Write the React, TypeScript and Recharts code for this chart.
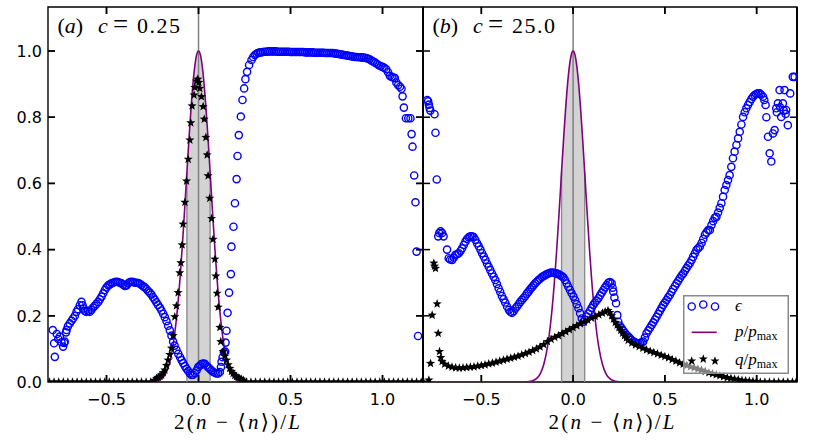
import {
  Area,
  ComposedChart,
  Line,
  ReferenceArea,
  ReferenceLine,
  Scatter,
  XAxis,
  YAxis,
} from 'recharts'

// axes
const X_DOMAIN: [number, number] = [-0.818, 1.22]
const Y_DOMAIN: [number, number] = [0, 1.133]
const X_TICKS = [-0.5, 0, 0.5, 1.0]
const X_TICK_LABELS = ['\u22120.5', '0.0', '0.5', '1.0']
const Y_TICKS = [0, 0.2, 0.4, 0.6, 0.8, 1.0]
const Y_TICK_LABELS = ['0.0', '0.2', '0.4', '0.6', '0.8', '1.0']

// shaded band around the centre
const BAND_EDGES = [-0.063, 0.063]
const BAND_EDGE_HEIGHT = 0.634

const PANEL_NAMES = ['a', 'b']
const PANEL_C = ['0.25', '25.0']
const LEGEND_NAMES = ['\u03f5', 'p/p_max', 'q/p_max']

// p / p_max (same curve in both panels)
const P_CURVE: [number, number][] = [
  [-0.818, 0], [-0.3, 0], [-0.27, 0], [-0.24, 0.001], [-0.22, 0.004], [-0.2, 0.01],
  [-0.18, 0.024], [-0.16, 0.053], [-0.14, 0.105], [-0.12, 0.191], [-0.1, 0.317],
  [-0.09, 0.395], [-0.08, 0.48], [-0.07, 0.57], [-0.06, 0.662], [-0.05, 0.751],
  [-0.04, 0.832], [-0.03, 0.902], [-0.02, 0.955], [-0.01, 0.989], [0, 1],
  [0.01, 0.989], [0.02, 0.955], [0.03, 0.902], [0.04, 0.832], [0.05, 0.751],
  [0.06, 0.662], [0.07, 0.57], [0.08, 0.48], [0.09, 0.395], [0.1, 0.317],
  [0.12, 0.191], [0.14, 0.105], [0.16, 0.053], [0.18, 0.024], [0.2, 0.01],
  [0.22, 0.004], [0.24, 0.001], [0.27, 0], [0.3, 0], [1.22, 0],
]

// p / p_max inside the shaded band
const P_BAND: [number, number][] = [
  [-0.063, 0.634], [-0.05, 0.751], [-0.04, 0.832], [-0.03, 0.902], [-0.02, 0.955],
  [-0.01, 0.989], [0, 1], [0.01, 0.989], [0.02, 0.955], [0.03, 0.902],
  [0.04, 0.832], [0.05, 0.751], [0.063, 0.634],
]

// (a) epsilon
const EPS_A: [number, number][] = [
  [-0.792, 0.157], [-0.785, 0.117], [-0.781, 0.076], [-0.77, 0.145], [-0.762, 0.13],
  [-0.754, 0.137], [-0.745, 0.12], [-0.736, 0.107], [-0.73, 0.118], [-0.727, 0.122],
  [-0.72, 0.15], [-0.717, 0.157], [-0.71, 0.168], [-0.7, 0.177], [-0.69, 0.185],
  [-0.682, 0.192], [-0.672, 0.2], [-0.663, 0.212], [-0.655, 0.22], [-0.645, 0.232],
  [-0.636, 0.242], [-0.63, 0.232], [-0.624, 0.222], [-0.618, 0.215], [-0.61, 0.212],
  [-0.6, 0.215], [-0.591, 0.212], [-0.582, 0.218], [-0.573, 0.225], [-0.564, 0.23],
  [-0.555, 0.236], [-0.545, 0.242], [-0.536, 0.25], [-0.527, 0.258], [-0.518, 0.268],
  [-0.509, 0.278], [-0.5, 0.286], [-0.49, 0.292], [-0.482, 0.295], [-0.473, 0.298],
  [-0.464, 0.3], [-0.455, 0.302], [-0.446, 0.303], [-0.437, 0.302], [-0.428, 0.3],
  [-0.418, 0.298], [-0.41, 0.294], [-0.4, 0.29], [-0.391, 0.292], [-0.382, 0.298],
  [-0.373, 0.302], [-0.364, 0.303], [-0.355, 0.302], [-0.346, 0.3], [-0.337, 0.3],
  [-0.328, 0.299], [-0.319, 0.297], [-0.31, 0.293], [-0.3, 0.289], [-0.292, 0.286],
  [-0.283, 0.281], [-0.274, 0.275], [-0.265, 0.27], [-0.256, 0.264], [-0.247, 0.256],
  [-0.238, 0.249], [-0.229, 0.241], [-0.22, 0.233], [-0.21, 0.225], [-0.201, 0.216],
  [-0.192, 0.206], [-0.183, 0.196], [-0.174, 0.184], [-0.165, 0.17], [-0.156, 0.156],
  [-0.147, 0.14], [-0.138, 0.122], [-0.13, 0.11], [-0.12, 0.097], [-0.11, 0.085],
  [-0.1, 0.075], [-0.092, 0.066], [-0.083, 0.057], [-0.074, 0.048], [-0.065, 0.04],
  [-0.056, 0.033], [-0.047, 0.026], [-0.038, 0.021], [-0.029, 0.022], [-0.02, 0.027],
  [-0.011, 0.035], [-0.002, 0.045], [0.007, 0.05], [0.016, 0.054], [0.025, 0.056],
  [0.034, 0.055], [0.043, 0.05], [0.052, 0.045], [0.061, 0.04], [0.07, 0.035],
  [0.079, 0.031], [0.088, 0.028], [0.097, 0.026], [0.107, 0.026], [0.116, 0.03],
  [0.122, 0.045], [0.125, 0.061], [0.131, 0.075], [0.138, 0.09], [0.145, 0.092],
  [0.147, 0.119], [0.152, 0.155], [0.158, 0.209], [0.166, 0.27], [0.176, 0.326],
  [0.179, 0.409], [0.19, 0.469], [0.198, 0.54], [0.207, 0.613], [0.212, 0.683],
  [0.219, 0.746], [0.23, 0.802], [0.239, 0.852], [0.248, 0.887], [0.255, 0.915],
  [0.264, 0.937], [0.275, 0.958], [0.288, 0.973], [0.297, 0.982], [0.306, 0.988],
  [0.315, 0.992], [0.324, 0.994], [0.333, 0.996], [0.34, 0.996], [0.35, 0.997],
  [0.36, 0.998], [0.37, 0.998], [0.38, 0.999], [0.39, 0.999], [0.4, 0.999],
  [0.41, 0.999], [0.42, 0.999], [0.43, 0.998], [0.44, 0.998], [0.45, 0.998],
  [0.46, 0.998], [0.47, 0.998], [0.48, 0.998], [0.49, 0.998], [0.5, 0.997],
  [0.51, 0.997], [0.52, 0.997], [0.53, 0.997], [0.54, 0.997], [0.55, 0.997],
  [0.56, 0.997], [0.57, 0.997], [0.58, 0.996], [0.59, 0.996], [0.6, 0.996],
  [0.61, 0.996], [0.62, 0.996], [0.63, 0.995], [0.64, 0.995], [0.65, 0.995],
  [0.66, 0.995], [0.67, 0.995], [0.68, 0.995], [0.69, 0.994], [0.7, 0.994],
  [0.71, 0.994], [0.72, 0.994], [0.73, 0.994], [0.74, 0.993], [0.75, 0.992],
  [0.76, 0.991], [0.77, 0.99], [0.78, 0.989], [0.79, 0.988], [0.8, 0.987],
  [0.81, 0.986], [0.82, 0.985], [0.83, 0.984], [0.84, 0.983], [0.85, 0.982],
  [0.86, 0.982], [0.87, 0.981], [0.88, 0.981], [0.89, 0.98], [0.9, 0.98],
  [0.91, 0.979], [0.92, 0.977], [0.93, 0.975], [0.94, 0.971], [0.95, 0.968],
  [0.96, 0.965], [0.97, 0.961], [0.98, 0.957], [0.99, 0.954], [1.0, 0.952],
  [1.01, 0.949], [1.02, 0.945], [1.03, 0.936], [1.04, 0.925], [1.05, 0.922],
  [1.06, 0.92], [1.067, 0.918], [1.075, 0.905], [1.085, 0.897], [1.095, 0.892],
  [1.103, 0.886], [1.109, 0.863], [1.116, 0.829], [1.127, 0.797], [1.14, 0.797],
  [1.152, 0.797], [1.158, 0.749], [1.163, 0.711], [1.172, 0.624], [1.179, 0.543],
  [1.185, 0.394], [1.193, 0.139],
]

// (a) q / p_max
const Q_A: [number, number][] = [
  [-0.81, 0], [-0.785, 0], [-0.76, 0], [-0.735, 0], [-0.71, 0], [-0.685, 0],
  [-0.66, 0], [-0.635, 0], [-0.61, 0], [-0.585, 0], [-0.56, 0], [-0.535, 0],
  [-0.51, 0], [-0.485, 0], [-0.46, 0], [-0.435, 0], [-0.41, 0], [-0.385, 0],
  [-0.36, 0], [-0.335, 0], [-0.31, 0], [-0.285, 0], [-0.26, 0], [-0.24, 0.005],
  [-0.228, 0.011], [-0.219, 0.014], [-0.21, 0.017], [-0.201, 0.021], [-0.192, 0.028],
  [-0.183, 0.036], [-0.174, 0.05], [-0.165, 0.066], [-0.156, 0.083], [-0.147, 0.102],
  [-0.138, 0.14], [-0.129, 0.197], [-0.12, 0.23], [-0.111, 0.27], [-0.102, 0.33],
  [-0.096, 0.36], [-0.089, 0.414], [-0.084, 0.477], [-0.074, 0.543], [-0.065, 0.607],
  [-0.056, 0.673], [-0.047, 0.731], [-0.042, 0.783], [-0.035, 0.834], [-0.024, 0.867],
  [-0.02, 0.89], [-0.011, 0.909], [-0.004, 0.915], [0.002, 0.905], [0.007, 0.887],
  [0.016, 0.862], [0.025, 0.832], [0.031, 0.794], [0.04, 0.739], [0.047, 0.686],
  [0.052, 0.623], [0.061, 0.555], [0.071, 0.494], [0.079, 0.431], [0.089, 0.371],
  [0.094, 0.32], [0.101, 0.268], [0.107, 0.226], [0.116, 0.165], [0.121, 0.122],
  [0.134, 0.092], [0.143, 0.078], [0.152, 0.066], [0.161, 0.052], [0.17, 0.041],
  [0.179, 0.032], [0.188, 0.026], [0.197, 0.02], [0.206, 0.016], [0.215, 0.013],
  [0.224, 0.011], [0.233, 0.008], [0.245, 0.005], [0.26, 0], [0.285, 0], [0.31, 0],
  [0.335, 0], [0.36, 0], [0.385, 0], [0.41, 0], [0.435, 0], [0.46, 0], [0.485, 0],
  [0.51, 0], [0.535, 0], [0.56, 0], [0.585, 0], [0.61, 0], [0.635, 0], [0.66, 0],
  [0.685, 0], [0.71, 0], [0.735, 0], [0.76, 0], [0.785, 0], [0.81, 0], [0.835, 0],
  [0.86, 0], [0.885, 0], [0.91, 0], [0.935, 0], [0.96, 0], [0.985, 0], [1.01, 0],
  [1.035, 0], [1.06, 0], [1.085, 0], [1.11, 0], [1.135, 0], [1.16, 0], [1.185, 0],
  [1.21, 0],
]

// (b) epsilon
const EPS_B: [number, number][] = [
  [-0.795, 0.852], [-0.79, 0.848], [-0.786, 0.838], [-0.782, 0.828], [-0.778, 0.82],
  [-0.755, 0.809], [-0.75, 0.753], [-0.743, 0.612], [-0.735, 0.44], [-0.73, 0.45],
  [-0.722, 0.455], [-0.714, 0.45], [-0.706, 0.44], [-0.687, 0.4], [-0.678, 0.374],
  [-0.67, 0.37], [-0.659, 0.369], [-0.65, 0.376], [-0.641, 0.384], [-0.632, 0.386],
  [-0.623, 0.389], [-0.614, 0.396], [-0.605, 0.404], [-0.596, 0.414], [-0.587, 0.424],
  [-0.578, 0.432], [-0.569, 0.437], [-0.56, 0.44], [-0.551, 0.44], [-0.542, 0.438],
  [-0.533, 0.43], [-0.523, 0.419], [-0.514, 0.41], [-0.505, 0.4], [-0.496, 0.389],
  [-0.487, 0.379], [-0.478, 0.369], [-0.469, 0.358], [-0.46, 0.348], [-0.451, 0.338],
  [-0.442, 0.328], [-0.433, 0.318], [-0.424, 0.308], [-0.415, 0.296], [-0.406, 0.283],
  [-0.397, 0.272], [-0.388, 0.26], [-0.379, 0.25], [-0.37, 0.24], [-0.36, 0.228],
  [-0.35, 0.218], [-0.342, 0.212], [-0.333, 0.209], [-0.324, 0.214], [-0.315, 0.222],
  [-0.306, 0.228], [-0.297, 0.235], [-0.288, 0.242], [-0.279, 0.248], [-0.27, 0.254],
  [-0.261, 0.26], [-0.252, 0.267], [-0.243, 0.273], [-0.234, 0.28], [-0.225, 0.286],
  [-0.216, 0.292], [-0.207, 0.298], [-0.198, 0.303], [-0.189, 0.308], [-0.18, 0.312],
  [-0.17, 0.317], [-0.161, 0.32], [-0.152, 0.323], [-0.143, 0.326], [-0.134, 0.328],
  [-0.125, 0.33], [-0.116, 0.331], [-0.107, 0.33], [-0.098, 0.329], [-0.089, 0.328],
  [-0.08, 0.326], [-0.071, 0.323], [-0.062, 0.32], [-0.053, 0.316], [-0.044, 0.308],
  [-0.035, 0.298], [-0.026, 0.288], [-0.017, 0.278], [-0.008, 0.268], [0.002, 0.258],
  [0.011, 0.247], [0.02, 0.235], [0.029, 0.223], [0.038, 0.208], [0.047, 0.192],
  [0.056, 0.182], [0.065, 0.188], [0.074, 0.198], [0.083, 0.207], [0.092, 0.215],
  [0.101, 0.224], [0.11, 0.233], [0.119, 0.24], [0.128, 0.246], [0.138, 0.253],
  [0.147, 0.262], [0.156, 0.27], [0.165, 0.278], [0.174, 0.286], [0.183, 0.293],
  [0.192, 0.3], [0.201, 0.302], [0.21, 0.298], [0.215, 0.285], [0.219, 0.273],
  [0.225, 0.255], [0.234, 0.238], [0.241, 0.202], [0.246, 0.182], [0.255, 0.17],
  [0.265, 0.162], [0.274, 0.155], [0.283, 0.148], [0.292, 0.142], [0.301, 0.137],
  [0.31, 0.132], [0.319, 0.127], [0.328, 0.123], [0.337, 0.12], [0.346, 0.118],
  [0.355, 0.117], [0.364, 0.118], [0.373, 0.12], [0.382, 0.122], [0.391, 0.134],
  [0.4, 0.147], [0.41, 0.156], [0.419, 0.164], [0.428, 0.172], [0.437, 0.18],
  [0.446, 0.189], [0.455, 0.197], [0.464, 0.206], [0.473, 0.215], [0.482, 0.224],
  [0.491, 0.233], [0.5, 0.24], [0.509, 0.248], [0.518, 0.256], [0.527, 0.263],
  [0.536, 0.272], [0.545, 0.281], [0.555, 0.29], [0.564, 0.298], [0.573, 0.306],
  [0.582, 0.314], [0.591, 0.322], [0.6, 0.328], [0.609, 0.336], [0.618, 0.344],
  [0.627, 0.352], [0.636, 0.359], [0.645, 0.368], [0.654, 0.378], [0.663, 0.388],
  [0.672, 0.399], [0.681, 0.404], [0.69, 0.409], [0.7, 0.42], [0.709, 0.432],
  [0.718, 0.445], [0.727, 0.452], [0.736, 0.459], [0.745, 0.459], [0.754, 0.474],
  [0.763, 0.486], [0.772, 0.496], [0.781, 0.499], [0.79, 0.512], [0.799, 0.526],
  [0.808, 0.54], [0.817, 0.56], [0.826, 0.58], [0.835, 0.595], [0.844, 0.61],
  [0.853, 0.625], [0.862, 0.65], [0.871, 0.676], [0.88, 0.696], [0.89, 0.716],
  [0.899, 0.736], [0.908, 0.756], [0.917, 0.778], [0.926, 0.801], [0.935, 0.815],
  [0.944, 0.827], [0.953, 0.837], [0.962, 0.846], [0.971, 0.855], [0.98, 0.862],
  [0.989, 0.867], [0.998, 0.87], [1.007, 0.872], [1.016, 0.872], [1.025, 0.868],
  [1.035, 0.862], [1.042, 0.852], [1.049, 0.837], [1.053, 0.8], [1.062, 0.741],
  [1.071, 0.691], [1.08, 0.666], [1.089, 0.751], [1.098, 0.761], [1.107, 0.827],
  [1.11, 0.815], [1.116, 0.842], [1.125, 0.882], [1.128, 0.83], [1.134, 0.801],
  [1.143, 0.842], [1.148, 0.82], [1.152, 0.882], [1.158, 0.81], [1.161, 0.822],
  [1.17, 0.776], [1.183, 0.872], [1.197, 0.922], [1.207, 0.922],
]

// (b) q / p_max
const Q_B: [number, number][] = [
  [-0.815, 0], [-0.786, 0.006], [-0.777, 0.056], [-0.768, 0.202], [-0.759, 0.359],
  [-0.755, 0.35], [-0.75, 0.343], [-0.741, 0.236], [-0.735, 0.147], [-0.728, 0.092],
  [-0.721, 0.074], [-0.714, 0.062], [-0.7, 0.054], [-0.68, 0.048], [-0.66, 0.045],
  [-0.64, 0.043], [-0.62, 0.042], [-0.6, 0.043], [-0.58, 0.044], [-0.56, 0.045],
  [-0.54, 0.046], [-0.52, 0.048], [-0.5, 0.05], [-0.48, 0.052], [-0.46, 0.055],
  [-0.44, 0.057], [-0.42, 0.06], [-0.4, 0.063], [-0.38, 0.066], [-0.36, 0.069],
  [-0.34, 0.072], [-0.32, 0.075], [-0.3, 0.078], [-0.28, 0.082], [-0.26, 0.086],
  [-0.24, 0.09], [-0.22, 0.095], [-0.2, 0.1], [-0.18, 0.106], [-0.16, 0.113],
  [-0.14, 0.122], [-0.12, 0.129], [-0.1, 0.135], [-0.08, 0.14], [-0.06, 0.146],
  [-0.04, 0.152], [-0.02, 0.158], [0, 0.164], [0.02, 0.17], [0.04, 0.176],
  [0.06, 0.181], [0.08, 0.187], [0.1, 0.193], [0.12, 0.198], [0.14, 0.203],
  [0.16, 0.208], [0.175, 0.212], [0.19, 0.216], [0.2, 0.21], [0.21, 0.2],
  [0.22, 0.19], [0.23, 0.18], [0.24, 0.172], [0.25, 0.164], [0.26, 0.156],
  [0.27, 0.148], [0.28, 0.14], [0.29, 0.133], [0.3, 0.126], [0.32, 0.118],
  [0.34, 0.112], [0.36, 0.107], [0.38, 0.102], [0.4, 0.097], [0.42, 0.093],
  [0.44, 0.089], [0.46, 0.085], [0.48, 0.081], [0.5, 0.077], [0.52, 0.073],
  [0.54, 0.068], [0.56, 0.063], [0.58, 0.058], [0.6, 0.054], [0.62, 0.05],
  [0.64, 0.046], [0.66, 0.043], [0.68, 0.039], [0.7, 0.036], [0.72, 0.032],
  [0.74, 0.028], [0.76, 0.025], [0.78, 0.022], [0.8, 0.019], [0.82, 0.016],
  [0.84, 0.013], [0.86, 0.011], [0.88, 0.009], [0.9, 0.007], [0.92, 0.005],
  [0.94, 0.004], [0.96, 0.003], [0.98, 0.002], [1.0, 0.001], [1.02, 0],
  [1.045, 0], [1.07, 0], [1.095, 0], [1.12, 0], [1.145, 0], [1.17, 0],
  [1.195, 0], [1.215, 0],
]

const toPts = (arr: [number, number][]) => arr.map(([x, y]) => ({ x, y }))

const BLACK = '#000000'
const BLUE = '#0000ff'
const PURPLE = '#800080'
const TICK_LEN = 7
const TICK_W = 1.5
const CHART_H = 440
const MARGIN_TOP = 7
const MARGIN_BOTTOM = 28
const X_AXIS_H = 30
const PLOT_H = CHART_H - MARGIN_TOP - MARGIN_BOTTOM - X_AXIS_H
const SANS = "'DejaVu Sans', sans-serif"
const SERIF = "'Liberation Serif', 'DejaVu Serif', serif"

function labelFor(values: number[], labels: string[], v: number) {
  const i = values.findIndex((t) => Math.abs(t - v) < 1e-9)
  return i >= 0 ? labels[i] : ''
}

function starPoints(cx: number, cy: number, R: number, r: number) {
  const pts: string[] = []
  for (let i = 0; i < 10; i++) {
    const a = -Math.PI / 2 + (i * Math.PI) / 5
    const rad = i % 2 === 0 ? R : r
    pts.push(`${cx + rad * Math.cos(a)},${cy + rad * Math.sin(a)}`)
  }
  return pts.join(' ')
}

const Ring = (p: any) => (
  <circle cx={p.cx} cy={p.cy} r={3.6} fill="none" stroke={BLUE} strokeWidth={1.4} />
)
const Star = (p: any) => <polygon points={starPoints(p.cx, p.cy, 4.8, 2.0)} fill={BLACK} />

// inward tick marks, drawn as small filled rects at the tick positions
const TickUp = (p: any) => (
  <rect x={p.cx - TICK_W / 2} y={p.cy - TICK_LEN} width={TICK_W} height={TICK_LEN} fill={BLACK} />
)
const TickDown = (p: any) => (
  <rect x={p.cx - TICK_W / 2} y={p.cy} width={TICK_W} height={TICK_LEN} fill={BLACK} />
)
const TickRight = (p: any) => (
  <rect x={p.cx} y={p.cy - TICK_W / 2} width={TICK_LEN} height={TICK_W} fill={BLACK} />
)
const TickLeft = (p: any) => (
  <rect x={p.cx - TICK_LEN} y={p.cy - TICK_W / 2} width={TICK_LEN} height={TICK_W} fill={BLACK} />
)

// bottom axis: label plus inward marks on the bottom and top edges
function BottomTick(p: any) {
  const { x, y, payload } = p
  return (
    <g>
      <rect x={x - TICK_W / 2} y={y - TICK_LEN} width={TICK_W} height={TICK_LEN} fill={BLACK} />
      <rect x={x - TICK_W / 2} y={y - PLOT_H} width={TICK_W} height={TICK_LEN} fill={BLACK} />
      <text x={x} y={y + 23} textAnchor="middle" fontFamily={SANS} fontSize={16} fill={BLACK}>
        {labelFor(X_TICKS, X_TICK_LABELS, payload.value)}
      </text>
    </g>
  )
}

// left axis: optional label plus inward marks on the left and right edges
function LeftTick(p: any) {
  const { x, y, payload, showLabel, plotWidth } = p
  const inner = Math.abs(payload.value) > 1e-9
  return (
    <g>
      {inner && <rect x={x} y={y - TICK_W / 2} width={TICK_LEN} height={TICK_W} fill={BLACK} />}
      {inner && (
        <rect x={x + plotWidth - TICK_LEN} y={y - TICK_W / 2} width={TICK_LEN} height={TICK_W} fill={BLACK} />
      )}
      {showLabel && (
        <text x={x - 6} y={y + 5.8} textAnchor="end" fontFamily={SANS} fontSize={16} fill={BLACK}>
          {labelFor(Y_TICKS, Y_TICK_LABELS, payload.value)}
        </text>
      )}
    </g>
  )
}

// x-axis title, the panel title and the right-hand spine
function Titles(p: any, idx: number) {
  const vb = p.viewBox
  const x0 = vb.x
  return (
    <g>
      <rect x={vb.x + vb.width - 0.8} y={vb.y - PLOT_H} width={1.6} height={PLOT_H} fill={BLACK} />
      <text
        x={vb.x + vb.width / 2 + 1.5}
        y={vb.y + 47}
        textAnchor="middle"
        fontFamily={SERIF}
        fontSize={21}
        fill={BLACK}
        textLength={126}
        lengthAdjust="spacing"
      >
        2(<tspan fontStyle="italic">n</tspan> {'\u2212'} {'\u27e8'}<tspan fontStyle="italic">n</tspan>
        {'\u27e9'})/<tspan fontStyle="italic">L</tspan>
      </text>
      <text y={33} fontFamily={SERIF} fontSize={22} fill={BLACK}>
        <tspan x={x0 + 9.5}>(</tspan>
        <tspan fontStyle="italic">{PANEL_NAMES[idx]}</tspan>
        <tspan>)</tspan>
        <tspan x={x0 + 50} fontStyle="italic">c</tspan>
        <tspan x={x0 + 65} fontSize={27}>=</tspan>
        <tspan x={x0 + 89} letterSpacing={1.5}>{PANEL_C[idx]}</tspan>
      </text>
    </g>
  )
}

// legend box of panel (b), laid over the chart with a half-transparent background
function LegendBox() {
  const mx = [8.7, 20.3, 32]
  const dy = [0, -2, 0]
  const textX = 52
  return (
    <div
      style={{
        position: 'absolute',
        left: 683,
        top: 295,
        width: 106,
        height: 79,
        background: 'rgba(255,255,255,0.5)',
      }}
    >
      <svg width={106} height={79} style={{ position: 'absolute', left: 0, top: 0 }}>
        <rect x={0.75} y={0.75} width={104.5} height={77.5} fill="none" stroke="#8a8a8a" strokeWidth={1.5} />
        {mx.map((x, i) => (
          <circle key={'c' + i} cx={x} cy={11.5 + dy[i]} r={3.6} fill="none" stroke={BLUE} strokeWidth={1.4} />
        ))}
        <rect x={8.7} y={36.5} width={25} height={1.6} fill={PURPLE} />
        {mx.map((x, i) => (
          <polygon key={'s' + i} points={starPoints(x, 66 + dy[i], 4.8, 2.0)} fill={BLACK} />
        ))}
        <text x={textX} y={16} fontFamily={SERIF} fontSize={17} fontStyle="italic" fill={BLACK}>
          {LEGEND_NAMES[0]}
        </text>
        <text x={textX} y={42} fontFamily={SERIF} fontSize={17} fill={BLACK}>
          <tspan fontStyle="italic">p</tspan>/<tspan fontStyle="italic">p</tspan>
          <tspan fontSize={12} dy={3}>max</tspan>
        </text>
        <text x={textX} y={70} fontFamily={SERIF} fontSize={17} fill={BLACK}>
          <tspan fontStyle="italic">q</tspan>/<tspan fontStyle="italic">p</tspan>
          <tspan fontSize={12} dy={3}>max</tspan>
        </text>
      </svg>
    </div>
  )
}

interface PanelProps {
  idx: number
  width: number
  margin: { top: number; right: number; bottom: number; left: number }
  eps: [number, number][]
  q: [number, number][]
  showYLabels: boolean
}

function Panel({ idx, width, margin, eps, q, showYLabels }: PanelProps) {
  const [xMin, xMax] = X_DOMAIN
  const [yMin, yMax] = Y_DOMAIN
  const innerY = Y_TICKS.filter((t) => t > yMin)
  const yAxisWidth = showYLabels ? 48 : 0
  const plotWidth = width - margin.left - margin.right - yAxisWidth
  return (
    <ComposedChart width={width} height={CHART_H} margin={margin}>
      <XAxis
        dataKey="x"
        type="number"
        domain={X_DOMAIN}
        ticks={X_TICKS}
        interval={0}
        allowDataOverflow
        height={X_AXIS_H}
        tickSize={0}
        tickMargin={0}
        tickLine={false}
        axisLine={false}
        tick={(p: any) => <BottomTick {...p} />}
        label={(p: any) => Titles(p, idx)}
      />
      <YAxis
        dataKey="y"
        type="number"
        domain={Y_DOMAIN}
        ticks={Y_TICKS}
        interval={0}
        allowDataOverflow
        width={yAxisWidth}
        tickSize={0}
        tickMargin={0}
        tickLine={false}
        axisLine={false}
        tick={(p: any) => <LeftTick {...p} showLabel={showYLabels} plotWidth={plotWidth} />}
      />
      <Area
        data={toPts(P_BAND)}
        dataKey="y"
        type="monotone"
        fill="#d3d3d3"
        fillOpacity={1}
        stroke="none"
        isAnimationActive={false}
      />
      {BAND_EDGES.map((bx) => (
        <ReferenceLine
          key={'edge' + bx}
          segment={[{ x: bx, y: 0 }, { x: bx, y: BAND_EDGE_HEIGHT }]}
          stroke="#8c8c8c"
          strokeWidth={1.4}
        />
      ))}
      <ReferenceLine x={0} stroke="#808080" strokeWidth={1.5} />
      <Scatter data={toPts(eps)} dataKey="y" shape={Ring} isAnimationActive={false} />
      <Line
        data={toPts(P_CURVE)}
        dataKey="y"
        type="monotone"
        stroke={PURPLE}
        strokeWidth={1.6}
        dot={false}
        activeDot={false}
        isAnimationActive={false}
      />
      <Scatter data={toPts(q)} dataKey="y" shape={Star} isAnimationActive={false} />
      <Scatter data={X_TICKS.map((t) => ({ x: t, y: yMin }))} dataKey="y" shape={TickUp} isAnimationActive={false} />
      <Scatter data={X_TICKS.map((t) => ({ x: t, y: yMax }))} dataKey="y" shape={TickDown} isAnimationActive={false} />
      <Scatter data={innerY.map((t) => ({ x: xMin, y: t }))} dataKey="y" shape={TickRight} isAnimationActive={false} />
      <Scatter data={innerY.map((t) => ({ x: xMax, y: t }))} dataKey="y" shape={TickLeft} isAnimationActive={false} />
      <ReferenceArea
        x1={xMin}
        x2={xMax}
        y1={yMin}
        y2={yMax}
        ifOverflow="visible"
        fill="none"
        fillOpacity={0}
        stroke={BLACK}
        strokeWidth={1.4}
      />
      <ReferenceLine x={xMax} ifOverflow="visible" stroke={BLACK} strokeWidth={1.6} />
    </ComposedChart>
  )
}

export default function App() {
  return (
    <div style={{ position: 'absolute', left: 0, top: 0, width: 814, height: 440, background: '#fff' }}>
      <div style={{ position: 'absolute', left: 0, top: 0 }}>
        <Panel
          idx={0}
          width={430}
          margin={{ top: MARGIN_TOP, right: 7, bottom: MARGIN_BOTTOM, left: 0 }}
          eps={EPS_A}
          q={Q_A}
          showYLabels
        />
      </div>
      <div style={{ position: 'absolute', left: 400, top: 0 }}>
        <Panel
          idx={1}
          width={414}
          margin={{ top: MARGIN_TOP, right: 17, bottom: MARGIN_BOTTOM, left: 23 }}
          eps={EPS_B}
          q={Q_B}
          showYLabels={false}
        />
      </div>
      <LegendBox />
    </div>
  )
}
